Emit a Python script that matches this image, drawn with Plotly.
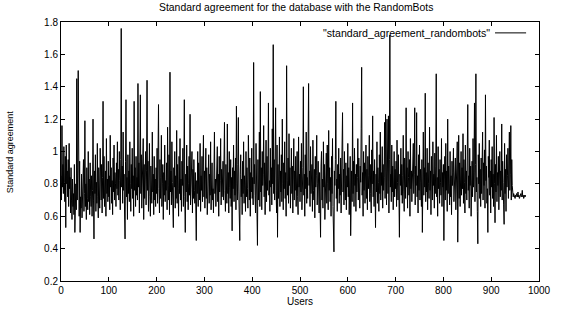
import plotly.graph_objects as go

values = [
    0.85, 0.70, 1.16, 0.78, 0.92, 0.74, 1.03, 0.81, 0.69, 0.97, 0.53, 1.04, 0.80, 0.88, 0.72, 0.95, 0.66, 1.05, 0.77, 0.84,
    0.62, 0.90, 0.70, 0.58, 0.83, 0.66, 0.74, 0.61, 0.92, 0.50, 0.68, 0.80, 0.64, 1.45, 0.70, 0.88, 1.50, 0.76, 0.60, 0.94,
    0.50, 0.72, 0.65, 0.86, 0.59, 0.78, 0.68, 0.95, 0.63, 0.74, 1.19, 0.66, 0.80, 0.58, 0.90, 0.71, 0.64, 1.00, 0.69, 0.83,
    0.61, 0.93, 0.72, 0.66, 0.85, 0.60, 0.76, 1.20, 0.70, 0.46, 0.88, 0.74, 0.98, 0.63, 0.81, 0.68, 1.05, 0.72, 0.59, 0.90,
    0.76, 0.65, 1.02, 0.80, 0.70, 0.92, 0.62, 0.84, 1.31, 0.71, 0.97, 0.66, 0.79, 0.88, 0.60, 1.08, 0.74, 0.83, 0.69, 0.94,
    0.72, 0.85, 0.64, 1.10, 0.78, 0.90, 0.68, 0.82, 0.61, 0.96, 0.75, 1.04, 0.70, 0.87, 0.80, 0.66, 0.93, 0.77, 1.06, 0.73,
    0.89, 0.70, 1.00, 0.82, 0.64, 0.95, 1.76, 0.78, 0.91, 0.68, 1.12, 0.76, 0.86, 0.62, 0.46, 0.94, 1.32, 0.72, 0.84, 0.58,
    0.98, 0.74, 0.88, 0.69, 1.06, 0.80, 0.63, 0.92, 0.77, 1.02, 0.71, 0.85, 0.60, 1.31, 0.76, 0.90, 0.66, 0.97, 0.73, 0.84,
    0.70, 1.42, 0.78, 0.93, 0.62, 0.86, 1.35, 0.74, 0.98, 0.65, 0.89, 0.80, 1.08, 0.58, 0.92, 0.71, 0.84, 1.00, 0.67, 0.88,
    1.44, 0.76, 0.94, 0.63, 0.82, 1.05, 0.72, 0.60, 0.91, 0.79, 0.68, 1.12, 0.75, 0.86, 0.61, 0.97, 0.70, 0.83, 0.66, 0.90,
    0.74, 1.02, 0.68, 0.88, 1.29, 0.77, 0.62, 0.95, 0.71, 0.84, 1.10, 0.66, 0.80, 0.92, 0.58, 0.87, 0.73, 1.04, 0.69, 0.82,
    0.76, 0.93, 0.64, 1.15, 0.79, 0.70, 0.98, 0.61, 1.49, 0.75, 0.88, 0.67, 1.06, 0.81, 0.72, 0.53, 0.90, 0.78, 1.00, 0.65,
    0.85, 0.71, 1.13, 0.68, 0.92, 0.77, 0.60, 0.97, 0.74, 1.08, 0.70, 0.83, 0.63, 0.94, 0.79, 1.02, 0.66, 0.88, 1.32, 0.72,
    0.50, 0.86, 0.75, 1.04, 0.69, 0.91, 0.64, 0.80, 0.97, 0.73, 1.23, 0.67, 0.84, 0.78, 1.00, 0.62, 0.89, 0.71, 0.95, 0.76,
    0.68, 0.87, 0.60, 0.45, 0.82, 0.74, 1.00, 0.66, 0.93, 0.78, 0.70, 1.05, 0.63, 0.85, 0.76, 0.97, 0.69, 0.81, 1.10, 0.72,
    0.88, 0.65, 0.79, 1.02, 0.71, 0.90, 0.61, 0.84, 0.75, 0.98, 0.68, 0.86, 0.73, 1.06, 0.64, 0.80, 0.93, 0.70, 0.77, 0.62,
    0.95, 1.12, 0.74, 0.83, 0.66, 0.91, 0.78, 1.03, 0.69, 0.86, 0.60, 0.97, 0.75, 0.82, 1.08, 0.67, 0.89, 0.72, 0.79, 0.94,
    0.70, 0.85, 1.18, 0.76, 0.63, 0.92, 0.81, 0.68, 1.17, 0.74, 0.87, 0.62, 1.00, 0.78, 0.71, 0.95, 0.66, 0.84, 0.51, 0.90,
    0.77, 1.04, 0.69, 0.88, 0.73, 0.96, 0.64, 1.28, 0.80, 0.70, 0.92, 1.21, 0.75, 0.66, 0.45, 0.86, 0.98, 0.72, 0.83, 0.61,
    0.94, 0.74, 1.06, 0.68, 0.85, 0.79, 0.63, 1.00, 0.72, 0.90, 0.77, 0.65, 1.10, 0.82, 0.70, 0.96, 0.60, 0.87, 0.75, 1.02,
    0.71, 0.84, 0.67, 1.55, 0.80, 0.92, 0.73, 0.62, 1.05, 0.78, 0.88, 0.42, 0.95, 0.70, 0.83, 1.12, 0.66, 1.37, 0.75, 0.90,
    0.64, 1.00, 0.79, 0.86, 1.16, 0.72, 0.93, 0.61, 0.84, 1.07, 0.69, 0.97, 0.76, 0.88, 1.30, 0.73, 0.82, 0.63, 1.02, 0.78,
    0.90, 0.67, 1.14, 0.80, 1.66, 0.74, 0.95, 0.70, 0.86, 1.27, 0.76, 0.62, 1.04, 0.47, 0.92, 0.71, 0.83, 1.09, 0.66, 0.88,
    0.75, 0.98, 0.69, 1.20, 0.80, 0.64, 0.93, 0.77, 1.06, 0.71, 0.87, 0.60, 1.53, 0.82, 0.73, 0.96, 0.68, 1.11, 0.79, 0.90,
    0.65, 0.85, 1.02, 0.74, 0.91, 0.62, 0.80, 1.08, 0.70, 0.88, 0.76, 0.97, 0.66, 0.83, 1.00, 0.72, 0.61, 1.09, 0.78, 0.86,
    0.69, 0.94, 0.75, 1.05, 0.64, 0.82, 0.90, 1.40, 0.73, 0.86, 0.60, 0.98, 0.77, 1.12, 0.68, 0.84, 0.71, 0.95, 1.42, 0.79,
    0.88, 0.66, 1.03, 0.74, 0.81, 0.92, 0.63, 1.07, 0.76, 0.70, 0.89, 0.59, 0.97, 0.78, 0.85, 1.10, 0.67, 0.80, 0.94, 0.72,
    0.62, 0.87, 0.75, 0.47, 0.91, 1.00, 0.70, 0.83, 0.65, 1.06, 0.78, 0.92, 0.58, 0.85, 0.73, 0.99, 0.68, 1.04, 0.80, 0.64,
    1.13, 0.76, 0.90, 0.69, 0.84, 0.60, 0.97, 0.74, 1.08, 0.66, 0.52, 0.38, 0.88, 0.79, 0.95, 1.31, 0.71, 0.83, 0.63, 0.92,
    0.77, 1.02, 0.68, 0.86, 0.73, 0.96, 0.62, 0.81, 1.10, 1.24, 0.75, 0.89, 0.67, 1.00, 0.80, 0.70, 0.93, 0.64, 0.85, 0.78,
    1.05, 0.72, 0.90, 0.61, 0.83, 0.97, 0.48, 0.76, 0.88, 0.69, 1.30, 0.74, 0.94, 0.66, 1.02, 0.79, 0.86, 0.63, 0.92, 0.75,
    0.84, 1.08, 0.70, 0.96, 0.78, 0.65, 0.91, 0.81, 1.14, 1.52, 0.73, 0.87, 0.60, 1.00, 0.76, 0.93, 0.68, 0.82, 1.04, 0.71,
    0.89, 0.64, 0.97, 0.77, 0.85, 1.10, 0.69, 0.92, 0.74, 0.62, 1.01, 0.80, 1.22, 0.72, 0.88, 0.66, 0.95, 0.78, 0.53, 0.86,
    0.75, 1.06, 0.68, 0.90, 0.81, 0.63, 0.98, 0.74, 1.12, 0.70, 0.87, 0.79, 1.03, 0.65, 0.92, 0.76, 0.84, 1.18, 0.71, 1.23,
    0.80, 0.67, 1.20, 0.88, 0.74, 1.22, 0.62, 0.95, 1.72, 0.78, 0.86, 0.69, 1.04, 0.75, 0.91, 0.64, 0.83, 1.00, 0.72, 0.89,
    0.77, 0.94, 0.66, 1.07, 0.81, 0.70, 0.98, 0.61, 0.47, 0.86, 0.79, 1.02, 0.73, 0.92, 0.68, 0.85, 1.10, 0.75, 0.63, 0.96,
    0.82, 0.71, 1.27, 0.78, 0.90, 0.65, 1.00, 0.84, 0.73, 0.95, 0.60, 1.08, 0.77, 0.88, 0.69, 0.93, 0.80, 1.05, 0.74, 0.86,
    1.27, 0.67, 0.91, 0.79, 1.24, 0.72, 0.85, 0.62, 0.98, 0.76, 1.04, 0.70, 0.89, 0.81, 0.66, 0.95, 0.50, 0.84, 1.12, 0.73,
    0.90, 0.78, 1.36, 0.69, 0.87, 0.75, 1.02, 0.64, 0.93, 0.80, 0.71, 1.15, 0.76, 0.88, 0.61, 0.97, 0.83, 0.70, 1.06, 0.79,
    0.86, 0.65, 0.99, 0.74, 0.91, 1.48, 0.72, 0.84, 0.60, 1.03, 0.77, 0.89, 0.68, 0.95, 0.81, 0.73, 1.08, 0.66, 0.87, 0.78,
    0.92, 0.45, 0.83, 0.97, 0.70, 1.05, 0.76, 0.88, 0.63, 1.20, 0.74, 0.91, 0.80, 0.67, 1.00, 0.72, 0.85, 0.61, 0.94, 0.79,
    0.87, 1.02, 0.69, 0.82, 0.75, 0.96, 0.64, 0.89, 0.78, 1.06, 0.44, 0.84, 1.10, 0.71, 0.93, 0.66, 0.86, 1.00, 0.73, 0.90,
    0.77, 1.11, 0.68, 0.95, 0.81, 0.62, 1.04, 0.74, 0.88, 0.70, 0.97, 1.29, 0.76, 0.85, 0.65, 1.02, 0.79, 0.91, 0.60, 0.83,
    0.94, 0.72, 1.08, 0.78, 0.87, 1.30, 0.69, 0.92, 1.48, 0.75, 0.84, 0.63, 0.43, 0.98, 0.80, 1.05, 0.71, 0.89, 0.66, 0.96,
    0.74, 0.86, 1.12, 0.70, 0.93, 0.79, 1.01, 0.65, 1.35, 0.82, 0.91, 0.68, 0.77, 0.50, 0.97, 0.84, 1.07, 0.73, 0.88, 0.62,
    0.95, 0.78, 1.03, 0.71, 0.86, 0.66, 1.21, 0.80, 0.56, 0.92, 0.75, 1.10, 0.69, 0.87, 0.79, 0.97, 0.64, 0.83, 1.00, 0.72,
    0.88, 0.76, 1.17, 0.70, 0.94, 0.81, 0.67, 0.55, 1.05, 0.74, 0.89, 0.63, 0.98, 0.78, 0.85, 1.02, 0.71, 0.92, 1.12, 0.76,
    0.86, 1.16, 0.70, 0.95, 0.79,
    0.73, 0.72, 0.74, 0.72, 0.73, 0.71, 0.73, 0.72, 0.74, 0.73, 0.72, 0.75, 0.72, 0.73, 0.71, 0.73, 0.72, 0.74, 0.72, 0.73,
    0.76, 0.72, 0.73, 0.71, 0.72, 0.73, 0.72, 0.73,
]
users = list(range(len(values)))

title_text = "Standard agreement for the database with the RandomBots"
x_title = "Users"
y_title = "Standard agreement"
series_name = '"standard_agreement_randombots"'

FONT = "Liberation Sans, Arial, Helvetica, sans-serif"

fig = go.Figure()
fig.add_trace(go.Scatter(x=users, y=values, mode="lines",
                         line=dict(color="black", width=1),
                         name=series_name, showlegend=False, hoverinfo="skip"))

axis_common = dict(showline=True, linecolor="black", linewidth=1, mirror="ticks",
                   ticks="inside", ticklen=4, tickcolor="black", tickwidth=1,
                   showgrid=False, zeroline=False, automargin=False,
                   tickfont=dict(family=FONT, size=10, color="black"))

fig.update_layout(
    width=561, height=311,
    margin=dict(l=61, r=22, t=22, b=30, autoexpand=False),
    paper_bgcolor="white", plot_bgcolor="white",
    font=dict(family=FONT, size=10, color="black"),
    title=dict(text=title_text, x=0.528, xanchor="center", xref="container",
               y=0.977, yanchor="middle", yref="container",
               font=dict(family=FONT, size=10.4, color="black")),
    xaxis=dict(range=[0, 1000], dtick=100, tick0=0,
               title=dict(text=x_title, standoff=2, font=dict(family=FONT, size=10)),
               **axis_common),
    yaxis=dict(range=[0.2, 1.8], dtick=0.2, tick0=0.2, **axis_common),
    showlegend=False,
)

fig.add_annotation(xref="paper", yref="paper", x=-0.107, y=0.5, xanchor="center", yanchor="middle",
                   text=y_title, textangle=-90, showarrow=False,
                   font=dict(family=FONT, size=9, color="black"))
fig.add_annotation(xref="paper", yref="paper", x=0.902, y=0.958, xanchor="right", yanchor="middle",
                   text=series_name, showarrow=False,
                   font=dict(family=FONT, size=10.6, color="black"))
fig.add_shape(type="line", xref="paper", yref="paper", x0=0.908, x1=0.973, y0=0.958, y1=0.958,
              line=dict(color="black", width=1))

fig.write_html("out.html", config={"displayModeBar": False},
               post_script="document.body.style.margin='0';document.body.style.padding='0';")
